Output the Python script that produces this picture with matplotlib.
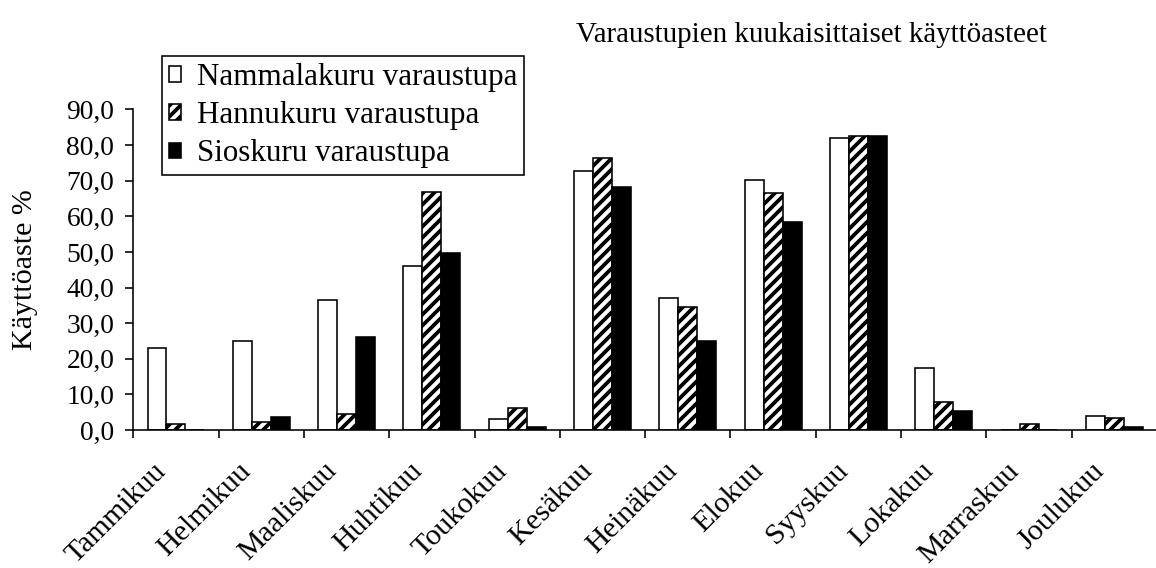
import matplotlib
matplotlib.use("Agg")
import matplotlib.pyplot as plt
import matplotlib.transforms as mtransforms
import numpy as np

# Monthly occupancy rates (%) of the three reservation huts
months = ["Tammikuu", "Helmikuu", "Maaliskuu", "Huhtikuu", "Toukokuu", "Kesäkuu",
          "Heinäkuu", "Elokuu", "Syyskuu", "Lokakuu", "Marraskuu", "Joulukuu"]
nammalakuru = [23.1, 25.0, 36.5, 46.0, 3.1, 72.8, 37.0, 70.2, 82.1, 17.3, 0.0, 3.9]
hannukuru = [1.6, 2.3, 4.4, 66.7, 6.3, 76.3, 34.4, 66.5, 82.5, 7.8, 1.6, 3.3]
sioskuru = [0.0, 3.6, 26.2, 49.8, 0.8, 68.3, 25.1, 58.3, 82.5, 5.2, 0.0, 0.9]
series_names = ["Nammalakuru varaustupa", "Hannukuru varaustupa", "Sioskuru varaustupa"]
yticks = [0, 10, 20, 30, 40, 50, 60, 70, 80, 90]

DPI = 132
W, H = 1156, 568


def pt(px):
    return px * 72.0 / DPI


plt.rcParams["font.family"] = ["Liberation Serif", "DejaVu Serif"]
plt.rcParams["hatch.linewidth"] = pt(3.8)
plt.rcParams["hatch.color"] = "black"

fig = plt.figure(figsize=(W / DPI, H / DPI), dpi=DPI)
fig.patch.set_facecolor("white")

left_px, right_px, top_px, bottom_px = 133.3, 1157.0, 109.5, 430.0
ax = fig.add_axes([left_px / W, 1 - bottom_px / H,
                   (right_px - left_px) / W, (bottom_px - top_px) / H])

fs_num = pt(27.5)
fs_txt = pt(30)
n = len(months)
x = np.arange(n)
w = 1.0 / 4.5

styles = [dict(facecolor="white", hatch=None),
          dict(facecolor="white", hatch="////"),
          dict(facecolor="black", hatch=None)]
handles = []
for i, (vals, st) in enumerate(zip([nammalakuru, hannukuru, sioskuru], styles)):
    bars = ax.bar(x + (i - 1) * w, vals, width=w, facecolor=st["facecolor"],
                  edgecolor="black", linewidth=pt(1.6), hatch=st["hatch"],
                  label=series_names[i], zorder=2)
    handles.append(bars)

ax.set_xlim(-0.5, n - 0.5)
ax.set_ylim(0, 90)

for side in ["top", "right"]:
    ax.spines[side].set_visible(False)
for side in ["left", "bottom"]:
    ax.spines[side].set_linewidth(pt(1.6))
    ax.spines[side].set_color("black")

ax.set_yticks(yticks)
ax.set_yticklabels([f"{v:.1f}".replace(".", ",") for v in yticks], fontsize=fs_num)
ax.tick_params(axis="y", direction="out", length=pt(8), width=pt(1.6), pad=pt(11))

# tick marks at category boundaries, labels at category centres
ax.set_xticks(np.arange(n + 1) - 0.5, minor=True)
ax.set_xticks(x)
ax.set_xticklabels(months, fontsize=fs_txt, rotation=45, ha="right", va="baseline",
                   rotation_mode="anchor")
ax.tick_params(axis="x", which="major", length=0, pad=pt(42))
ax.tick_params(axis="x", which="minor", direction="out", length=pt(8), width=pt(1.6))
shift = mtransforms.ScaledTranslation(-9 / DPI, 0, fig.dpi_scale_trans)
for lbl in ax.get_xticklabels():
    lbl.set_transform(lbl.get_transform() + shift)

fig.text(25 / W, 1 - 270 / H, "Käyttöaste %", rotation=90, ha="center", va="center",
         fontsize=fs_txt)
fig.text(811 / W, 1 - 42 / H, "Varaustupien kuukaisittaiset käyttöasteet",
         ha="center", va="baseline", fontsize=pt(29))

leg = fig.legend(handles=handles, labels=series_names, loc="upper left",
                 bbox_to_anchor=(162 / W, 1 - 56 / H), bbox_transform=fig.transFigure,
                 fontsize=pt(31), frameon=True, fancybox=False, shadow=False,
                 borderaxespad=0, borderpad=0.22, labelspacing=0.3,
                 handlelength=0.4, handleheight=0.4, handletextpad=0.5)
leg.get_frame().set_edgecolor("black")
leg.get_frame().set_linewidth(pt(1.6))
leg.get_frame().set_alpha(1)

fig.savefig("out.png", dpi=DPI, facecolor="white")
